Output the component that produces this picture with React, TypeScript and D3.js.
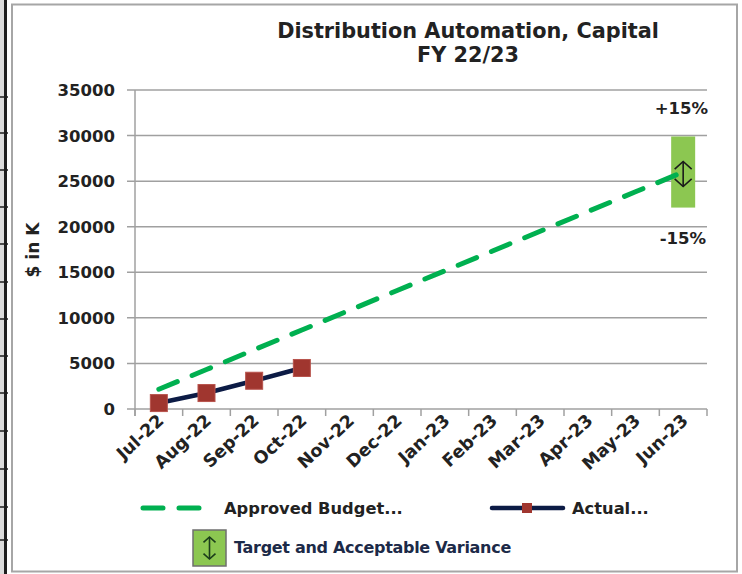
import React from "react";
import * as d3 from "d3";

// chart data
const months = ["Jul-22", "Aug-22", "Sep-22", "Oct-22", "Nov-22", "Dec-22", "Jan-23", "Feb-23", "Mar-23", "Apr-23", "May-23", "Jun-23"];
const budget = [2167, 4333, 6500, 8667, 10833, 13000, 15167, 17333, 19500, 21667, 23833, 26000];
const actual = [650, 1750, 3100, 4500];
const yTicks = [0, 5000, 10000, 15000, 20000, 25000, 30000, 35000];
const target = 26000;
const variancePct = 0.15;

const W = 742;
const H = 574;
const plotL = 135, plotR = 707, plotT = 90, plotB = 409;
const font = "'DejaVu Sans', sans-serif";
const green = "#00B050";
const navy = "#0C1B45";
const marker = "#A0362F";
const boxGreen = "#8CC751";

// edge of the worksheet behind the chart
const sheetRows = [97, 133, 170, 207, 244, 282, 319, 356, 393, 431, 469, 507, 540];

function Arrow({ cx, cy, h, w, color }: { cx: number; cy: number; h: number; w: number; color: string }) {
  const t = cy - h / 2, b = cy + h / 2, hw = w / 2, hh = w * 0.45;
  return (
    <g stroke={color} fill="none" strokeWidth={1.6} strokeLinejoin="miter">
      <line x1={cx} y1={t} x2={cx} y2={b} />
      <path d={`M${cx - hw},${t + hh} L${cx},${t} L${cx + hw},${t + hh}`} />
      <path d={`M${cx - hw},${b - hh} L${cx},${b} L${cx + hw},${b - hh}`} />
    </g>
  );
}

export default function App() {
  const x = d3.scaleBand().domain(months).range([plotL, plotR]).padding(0);
  const y = d3.scaleLinear().domain([0, 35000]).range([plotB, plotT]);
  const cx = (m: string) => (x(m) as number) + x.bandwidth() / 2;

  const line = d3.line<[string, number]>().x(d => cx(d[0])).y(d => y(d[1]));
  const budgetPath = line(months.map((m, i) => [m, budget[i]]));
  const actualPath = line(actual.map((v, i) => [months[i], v]));

  const last = months[months.length - 1];
  const boxW = 24;
  const hi = y(target * (1 + variancePct));
  const lo = y(target * (1 - variancePct));

  return (
    <svg width={W} height={H} style={{ position: "absolute", left: 0, top: 0, background: "#fff" }}>
      {/* worksheet strip on the left */}
      <rect x={0} y={0} width={5} height={H} fill="#dcdcdc" />
      <line x1={5.5} y1={0} x2={5.5} y2={H} stroke="#1e1e1e" strokeWidth={3} />
      {sheetRows.map(r => (
        <line key={r} x1={0} x2={8} y1={r} y2={r} stroke="#1e1e1e" strokeWidth={1.5} />
      ))}

      {/* chart frame */}
      <rect x={12} y={4.5} width={725} height={567} fill="#fff" stroke="#a6a6a6" strokeWidth={2} />

      {/* title */}
      <text x={468} y={38} textAnchor="middle" fontFamily={font} fontWeight="bold" fontSize={20.8} fill="#222">
        Distribution Automation, Capital
      </text>
      <text x={468} y={62} textAnchor="middle" fontFamily={font} fontWeight="bold" fontSize={20.8} fill="#222">
        FY 22/23
      </text>

      {/* gridlines and y ticks */}
      {yTicks.map(t => (
        <g key={t}>
          <line x1={plotL - 8} x2={plotR} y1={y(t)} y2={y(t)} stroke="#a0a0a0" strokeWidth={1.5} />
          <text x={115} y={y(t) + 6} textAnchor="end" fontFamily={font} fontWeight="bold" fontSize={16.5} fill="#222">
            {t}
          </text>
        </g>
      ))}
      <line x1={plotL} x2={plotL} y1={plotT} y2={plotB + 7} stroke="#a0a0a0" strokeWidth={1.5} />

      {/* x ticks */}
      {months.map(m => (
        <line key={m} x1={x(m)} x2={x(m)} y1={plotB} y2={plotB + 7} stroke="#a0a0a0" strokeWidth={1.5} />
      ))}
      <line x1={plotR} x2={plotR} y1={plotB} y2={plotB + 7} stroke="#a0a0a0" strokeWidth={1.5} />
      {months.map(m => (
        <text
          key={m}
          transform={`translate(${cx(m) + 6},${plotB + 13}) rotate(-43)`}
          textAnchor="end"
          fontFamily={font}
          fontWeight="bold"
          fontSize={17.5}
          fill="#222"
        >
          {m}
        </text>
      ))}

      {/* y axis title */}
      <text transform="translate(39,250) rotate(-90)" textAnchor="middle" fontFamily={font} fontWeight="bold" fontSize={17} fill="#222">
        $ in K
      </text>

      {/* variance box */}
      <rect x={cx(last) - boxW / 2} y={hi} width={boxW} height={lo - hi} fill={boxGreen} />
      <text x={708} y={114} textAnchor="end" fontFamily={font} fontWeight="bold" fontSize={16.5} fill="#222">
        +15%
      </text>
      <text x={706} y={244} textAnchor="end" fontFamily={font} fontWeight="bold" fontSize={16.5} fill="#222">
        -15%
      </text>

      {/* budget */}
      <path d={budgetPath ?? ""} fill="none" stroke={green} strokeWidth={5} strokeDasharray="20 16" strokeLinecap="round" />
      <Arrow cx={cx(last)} cy={y(target) + 2} h={25} w={17} color="#1a1a1a" />

      {/* actual */}
      <path d={actualPath ?? ""} fill="none" stroke={navy} strokeWidth={4.5} />
      {actual.map((v, i) => (
        <rect key={i} x={cx(months[i]) - 8.5} y={y(v) - 8.5} width={17} height={17} fill={marker} stroke="#b8534c" strokeWidth={1} />
      ))}

      {/* legend */}
      <line x1={143} x2={204} y1={508} y2={508} stroke={green} strokeWidth={5} strokeDasharray="20 16" strokeLinecap="round" />
      <text x={224} y={514} fontFamily={font} fontWeight="bold" fontSize={16.3} fill="#222">
        Approved Budget...
      </text>
      <line x1={492} x2={563} y1={508} y2={508} stroke={navy} strokeWidth={4.5} strokeLinecap="round" />
      <rect x={522} y={503} width={10} height={10} fill={marker} />
      <text x={572} y={514} fontFamily={font} fontWeight="bold" fontSize={16.3} fill="#222">
        Actual...
      </text>
      <rect x={193} y={530} width={33} height={36} fill={boxGreen} stroke="#6f6f6f" strokeWidth={1.5} />
      <Arrow cx={209.5} cy={548} h={22} w={12} color="#1b3d1b" />
      <text x={234} y={553} fontFamily={font} fontWeight="bold" fontSize={16} fill="#1c2a48" letterSpacing={-0.3}>
        Target and Acceptable Variance
      </text>
    </svg>
  );
}
